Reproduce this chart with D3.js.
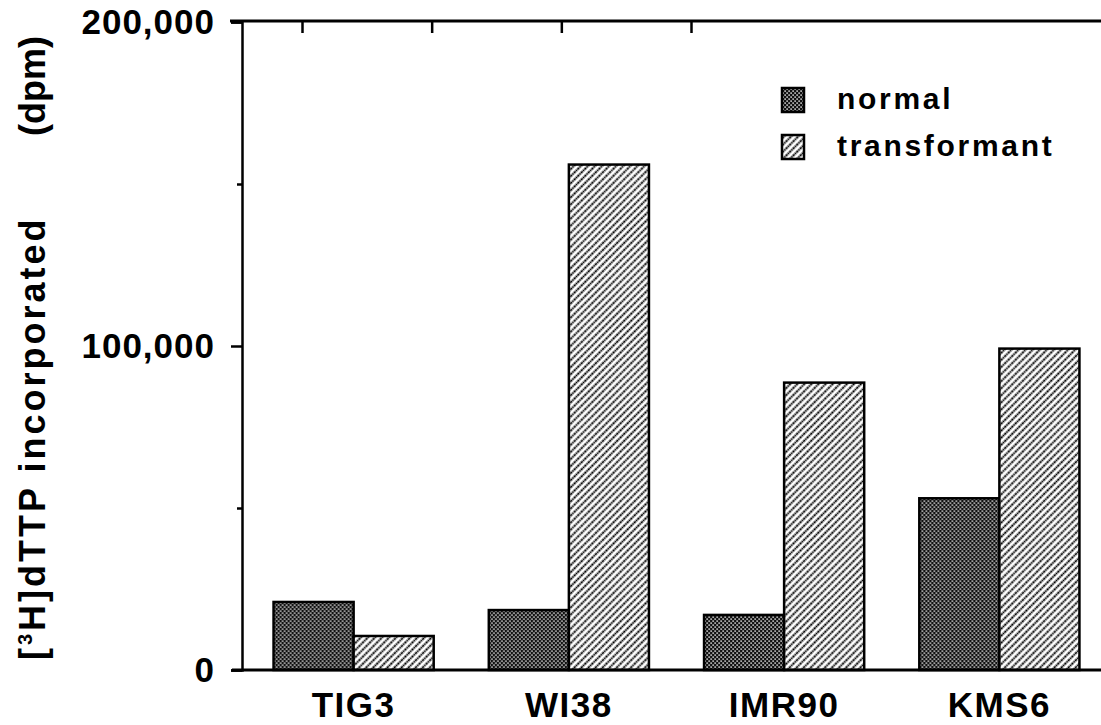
<!DOCTYPE html>
<html>
<head>
<meta charset="utf-8">
<script src="https://cdn.jsdelivr.net/npm/d3@7"></script>
<style>
  body { margin: 0; background: #fff; }
  text { font-family: "Liberation Sans", Arial, Helvetica, sans-serif; font-weight: bold; fill: #000; }
</style>
</head>
<body>
<div id="chart"></div>
<script>
var categories = ["TIG3", "WI38", "IMR90", "KMS6"],
    series = ["normal", "transformant"],
    normal = [21000, 18500, 17000, 53000],
    transformant = [10500, 156000, 88700, 99200],
    yMajor = [0, 100000, 200000],
    yMinor = [50000, 150000],
    topTicks = [0, 1, 2, 3];

var width = 1101,
    height = 725,
    axisLeftX = 242, plotTop = 22, plotBottom = 670;

var svg = d3.select('#chart')
    .append('svg')
    .attr('width', width)
    .attr('height', height);

var defs = svg.append('defs');

// dark stipple for "normal"
var dots = defs.append('pattern')
    .attr('id', 'pat-normal')
    .attr('patternUnits', 'userSpaceOnUse')
    .attr('width', 4).attr('height', 4);
dots.append('rect').attr('width', 4).attr('height', 4).attr('fill', '#111');
dots.append('rect').attr('x', 0.4).attr('y', 0.4).attr('width', 1.4).attr('height', 1.4).attr('fill', '#fff');
dots.append('rect').attr('x', 2.4).attr('y', 2.4).attr('width', 1.4).attr('height', 1.4).attr('fill', '#fff');

// diagonal hatching for "transformant"
var hatch = defs.append('pattern')
    .attr('id', 'pat-transformant')
    .attr('patternUnits', 'userSpaceOnUse')
    .attr('width', 5).attr('height', 5)
    .attr('patternTransform', 'rotate(45)');
hatch.append('rect').attr('width', 5).attr('height', 5).attr('fill', '#fff');
hatch.append('line')
    .attr('x1', 2.5).attr('y1', 0).attr('x2', 2.5).attr('y2', 5)
    .attr('stroke', '#000').attr('stroke-width', 1.9)
    .attr('stroke-dasharray', '2 0.5');

var fill = d3.scaleOrdinal()
    .domain(series)
    .range(['url(#pat-normal)', 'url(#pat-transformant)']);

var x = d3.scaleBand()
    .domain(categories)
    .range([246, 1107])
    .paddingInner(0.256)
    .paddingOuter(0.128);

var xs = d3.scaleBand()
    .domain(series)
    .range([0, x.bandwidth()]);

var y = d3.scaleLinear()
    .domain([0, 200000])
    .range([plotBottom, plotTop]);

var rows = categories.map(function (c, i) {
    return {cat: c, values: [
        {key: 'normal', value: normal[i]},
        {key: 'transformant', value: transformant[i]}
    ]};
});

// bars
var group = svg.selectAll('g.group')
    .data(rows)
    .enter()
    .append('g')
    .attr('class', 'group')
    .attr('transform', function (d) { return 'translate(' + x(d.cat) + ',0)'; });

group.selectAll('rect')
    .data(function (d) { return d.values; })
    .enter()
    .append('rect')
    .attr('x', function (d) { return xs(d.key); })
    .attr('y', function (d) { return y(d.value); })
    .attr('width', xs.bandwidth())
    .attr('height', function (d) { return y(0) - y(d.value); })
    .attr('fill', function (d) { return fill(d.key); })
    .attr('stroke', '#000')
    .attr('stroke-width', 2.5);

// left axis, major ticks with labels
var yAxis = svg.append('g')
    .attr('transform', 'translate(' + axisLeftX + ',0)')
    .call(d3.axisLeft(y)
        .tickValues(yMajor)
        .tickSize(11)
        .tickPadding(16)
        .tickFormat(d3.format(',')));
yAxis.selectAll('line').attr('stroke-width', 2.5);
yAxis.select('.domain').attr('stroke-width', 2.5);
yAxis.selectAll('text').style('font-size', '35px').style('letter-spacing', '1px');

// minor ticks
var yMinorAxis = svg.append('g')
    .attr('transform', 'translate(' + axisLeftX + ',0)')
    .call(d3.axisLeft(y).tickValues(yMinor).tickSize(5).tickFormat(''));
yMinorAxis.select('.domain').remove();
yMinorAxis.selectAll('line').attr('stroke-width', 2.5);

// bottom axis with category labels
var xAxis = svg.append('g')
    .attr('transform', 'translate(0,' + plotBottom + ')')
    .call(d3.axisBottom(x).tickSize(0).tickPadding(22));
xAxis.select('.domain').remove();
xAxis.selectAll('text').style('font-size', '35px').style('letter-spacing', '1.5px');

svg.append('line')
    .attr('x1', 232).attr('x2', width)
    .attr('y1', plotBottom).attr('y2', plotBottom)
    .attr('stroke', '#000').attr('stroke-width', 3);

// top frame line with its ticks
var tx = d3.scalePoint().domain(topTicks).range([302, 691]);
var topAxis = svg.append('g')
    .attr('transform', 'translate(0,' + (plotTop - 1) + ')')
    .call(d3.axisBottom(tx).tickSize(12).tickFormat(''));
topAxis.select('.domain').remove();
topAxis.selectAll('line').attr('stroke-width', 2.5);
svg.append('line')
    .attr('x1', 230).attr('x2', width)
    .attr('y1', plotTop - 1).attr('y2', plotTop - 1)
    .attr('stroke', '#000').attr('stroke-width', 3);

// y axis title
var title = svg.append('text')
    .attr('transform', 'translate(45,' + 660 + ') rotate(-90)')
    .style('font-size', '36px')
    .style('letter-spacing', '3px');
title.append('tspan').text('[');
title.append('tspan').text('3').style('font-size', '20px').attr('dy', -13);
title.append('tspan').text('H]dTTP incorporated').attr('dy', 13);
svg.append('text')
    .attr('transform', 'translate(45,' + 36 + ') rotate(-90)')
    .attr('text-anchor', 'end')
    .style('font-size', '36px')
    .text('(dpm)');

// legend
var legend = svg.selectAll('g.legend')
    .data(series)
    .enter()
    .append('g')
    .attr('class', 'legend')
    .attr('transform', function (d, i) { return 'translate(782,' + (88 + i * 47) + ')'; });
legend.append('rect')
    .attr('width', 22).attr('height', 24)
    .attr('fill', function (d) { return fill(d); })
    .attr('stroke', '#000').attr('stroke-width', 2.5);
legend.append('text')
    .attr('x', 55).attr('y', 21)
    .style('font-size', '30px')
    .style('letter-spacing', '2.7px')
    .text(function (d) { return d; });
</script>
</body>
</html>
